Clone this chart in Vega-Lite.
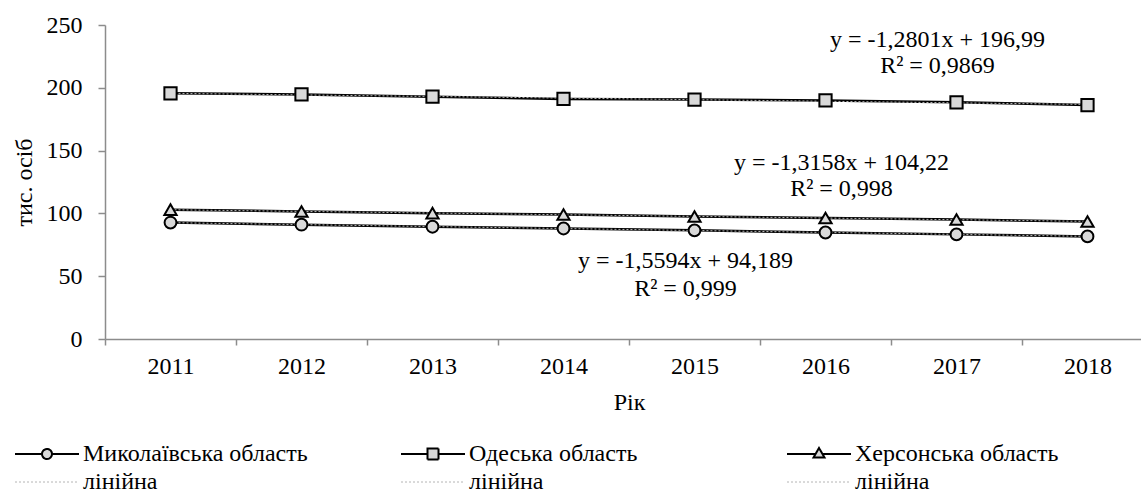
{
  "$schema": "https://vega.github.io/schema/vega-lite/v6.json",
  "width": 1036,
  "height": 314,
  "autosize": {"type": "none"},
  "padding": {"left": 105, "top": 25, "right": 0, "bottom": 156},
  "background": "#ffffff",
  "config": {
    "view": {"stroke": null},
    "font": "Liberation Serif",
    "axis": {
      "labelFont": "Liberation Serif",
      "titleFont": "Liberation Serif",
      "labelFontSize": 24,
      "titleFontSize": 24,
      "titleFontWeight": "normal",
      "labelColor": "#000000",
      "titleColor": "#000000",
      "domainColor": "#8c8c8c",
      "tickColor": "#8c8c8c",
      "domainWidth": 1.5,
      "tickWidth": 1.5,
      "grid": false
    },
    "legend": {
      "labelFont": "Liberation Serif",
      "labelFontSize": 24,
      "labelColor": "#000000"
    }
  },
  "datasets": {
    "series": [
      {"region": "Миколаївська область", "year": 2011, "value": 92.7},
      {"region": "Миколаївська область", "year": 2012, "value": 91.0},
      {"region": "Миколаївська область", "year": 2013, "value": 89.4},
      {"region": "Миколаївська область", "year": 2014, "value": 88.0},
      {"region": "Миколаївська область", "year": 2015, "value": 86.5},
      {"region": "Миколаївська область", "year": 2016, "value": 84.8},
      {"region": "Миколаївська область", "year": 2017, "value": 83.3},
      {"region": "Миколаївська область", "year": 2018, "value": 81.7},
      {"region": "Одеська область", "year": 2011, "value": 195.6},
      {"region": "Одеська область", "year": 2012, "value": 194.7},
      {"region": "Одеська область", "year": 2013, "value": 192.9},
      {"region": "Одеська область", "year": 2014, "value": 191.1},
      {"region": "Одеська область", "year": 2015, "value": 190.6},
      {"region": "Одеська область", "year": 2016, "value": 189.9},
      {"region": "Одеська область", "year": 2017, "value": 188.4},
      {"region": "Одеська область", "year": 2018, "value": 186.3},
      {"region": "Херсонська область", "year": 2011, "value": 103.0},
      {"region": "Херсонська область", "year": 2012, "value": 101.5},
      {"region": "Херсонська область", "year": 2013, "value": 100.2},
      {"region": "Херсонська область", "year": 2014, "value": 99.1},
      {"region": "Херсонська область", "year": 2015, "value": 97.5},
      {"region": "Херсонська область", "year": 2016, "value": 96.3},
      {"region": "Херсонська область", "year": 2017, "value": 95.1},
      {"region": "Херсонська область", "year": 2018, "value": 93.6}
    ],
    "notes": [
      {"grp": "o", "year": 2017, "value": 238.1, "label": "y = -1,2801x + 196,99"},
      {"grp": "o", "year": 2017, "value": 217.4, "label": "R² = 0,9869"},
      {"grp": "k", "year": 2016, "value": 140.1, "label": "y = -1,3158x + 104,22"},
      {"grp": "k", "year": 2016, "value": 119.4, "label": "R² = 0,998"},
      {"grp": "m", "year": 2015, "value": 62.1, "label": "y = -1,5594x + 94,189"},
      {"grp": "m", "year": 2015, "value": 39.8, "label": "R² = 0,999"}
    ]
  },
  "encoding": {
    "x": {
      "field": "year",
      "type": "ordinal",
      "scale": {"type": "band", "range": [0, 1048], "paddingInner": 0, "paddingOuter": 0},
      "axis": {
        "title": "Рік",
        "labelAngle": 0,
        "tickBand": "extent",
        "tickSize": 6,
        "labelPadding": 9,
        "titlePadding": 12
      }
    },
    "y": {
      "field": "value",
      "type": "quantitative",
      "scale": {"domain": [0, 250], "nice": false, "zero": true},
      "axis": {
        "title": "тис. осіб",
        "values": [0, 50, 100, 150, 200, 250],
        "tickSize": 7,
        "labelPadding": 16,
        "titlePadding": 10
      }
    }
  },
  "layer": [
    {
      "data": {"name": "series"},
      "mark": {"type": "line", "color": "#000000", "strokeWidth": 2.5},
      "encoding": {"detail": {"field": "region"}}
    },
    {
      "data": {"name": "series"},
      "transform": [{"regression": "value", "on": "year", "groupby": ["region"]}],
      "mark": {"type": "line", "color": "#b8b8b8", "strokeWidth": 1, "strokeDash": [2, 2]},
      "encoding": {"detail": {"field": "region"}}
    },
    {
      "data": {"name": "series"},
      "transform": [{"filter": "datum.region === 'Миколаївська область'"}],
      "mark": {"type": "point", "shape": "circle", "filled": true, "fill": "#d9d9d9", "stroke": "#000000", "strokeWidth": 2, "size": 140, "opacity": 1}
    },
    {
      "data": {"name": "series"},
      "transform": [{"filter": "datum.region === 'Одеська область'"}],
      "mark": {"type": "point", "shape": "square", "filled": true, "fill": "#d9d9d9", "stroke": "#000000", "strokeWidth": 2, "size": 150, "opacity": 1}
    },
    {
      "data": {"name": "series"},
      "transform": [{"filter": "datum.region === 'Херсонська область'"}],
      "mark": {"type": "point", "shape": "triangle-up", "filled": true, "fill": "#d9d9d9", "stroke": "#000000", "strokeWidth": 2, "size": 150, "opacity": 1}
    },
    {
      "data": {"name": "series"},
      "mark": {"type": "point", "filled": true, "fill": "#d9d9d9", "opacity": 0},
      "encoding": {
        "shape": {
          "field": "region",
          "type": "nominal",
          "scale": {
            "domain": ["Миколаївська область", "Одеська область", "Херсонська область", "лінійна ", "лінійна  ", "лінійна   "],
            "range": [
              "M-1,0H4.4M6.4,0A1,1,0,1,0,4.4,0A1,1,0,1,0,6.4,0M6.4,0H11.8",
              "M-1,0H4.3M4.3,-1.1H6.5V1.1H4.3ZM6.5,0H11.8",
              "M-1,0H4.7M4.3,0.7L5.4,-1.2L6.5,0.7ZM6.1,0H11.8",
              "M-1,0H11.8",
              "M-1,0H11.8",
              "M-1,0H11.8"
            ]
          },
          "legend": {
            "title": null,
            "orient": "none",
            "direction": "horizontal",
            "legendX": -97,
            "legendY": 417,
            "columns": 3,
            "gridAlign": "all",
            "columnPadding": 86,
            "rowPadding": 4,
            "symbolSize": 100,
            "symbolOpacity": 1,
            "symbolFillColor": "#d9d9d9",
            "labelOffset": 51,
            "labelLimit": 500,
            "labelFontSize": 24
          }
        },
        "stroke": {
          "field": "region",
          "type": "nominal",
          "scale": {
            "domain": ["Миколаївська область", "Одеська область", "Херсонська область", "лінійна ", "лінійна  ", "лінійна   "],
            "range": ["#000000", "#000000", "#000000", "#b4b4b4", "#b4b4b4", "#b4b4b4"]
          },
          "legend": {"title": null}
        },
        "strokeDash": {
          "field": "region",
          "type": "nominal",
          "scale": {
            "domain": ["Миколаївська область", "Одеська область", "Херсонська область", "лінійна ", "лінійна  ", "лінійна   "],
            "range": [[1, 0], [1, 0], [1, 0], [2, 2], [2, 2], [2, 2]]
          },
          "legend": {"title": null}
        },
        "strokeWidth": {
          "field": "region",
          "type": "nominal",
          "scale": {
            "type": "ordinal",
            "domain": ["Миколаївська область", "Одеська область", "Херсонська область", "лінійна ", "лінійна  ", "лінійна   "],
            "range": [2, 2, 2, 1, 1, 1]
          },
          "legend": {"title": null}
        }
      }
    },
    {
      "data": {"name": "notes"},
      "transform": [{"filter": "datum.grp === 'o'"}],
      "mark": {"type": "text", "font": "Liberation Serif", "fontSize": 24, "color": "#000000", "align": "center", "baseline": "middle", "dx": -19},
      "encoding": {"text": {"field": "label"}}
    },
    {
      "data": {"name": "notes"},
      "transform": [{"filter": "datum.grp === 'k'"}],
      "mark": {"type": "text", "font": "Liberation Serif", "fontSize": 24, "color": "#000000", "align": "center", "baseline": "middle", "dx": 16},
      "encoding": {"text": {"field": "label"}}
    },
    {
      "data": {"name": "notes"},
      "transform": [{"filter": "datum.grp === 'm'"}],
      "mark": {"type": "text", "font": "Liberation Serif", "fontSize": 24, "color": "#000000", "align": "center", "baseline": "middle", "dx": -9},
      "encoding": {"text": {"field": "label"}}
    }
  ]
}
